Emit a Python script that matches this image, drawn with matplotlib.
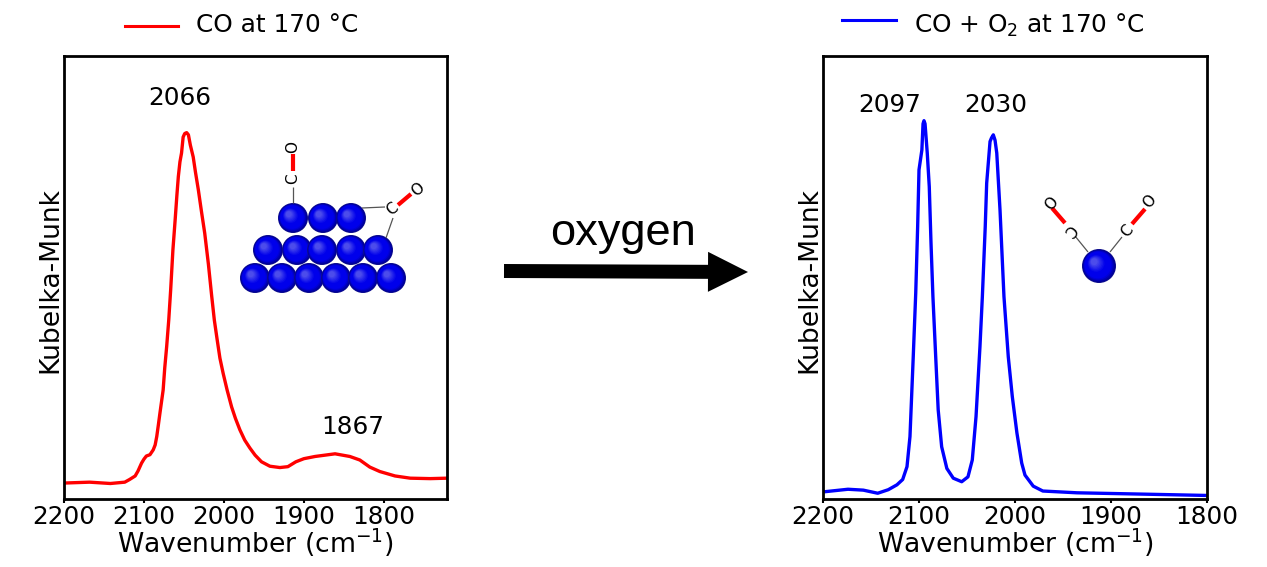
import numpy as np
import matplotlib
matplotlib.use('Agg')
import matplotlib.pyplot as plt
from matplotlib.patches import Circle

# CO at 170 C, left panel
wn_co = [2200, 2168, 2142, 2124, 2118, 2111, 2107.5, 2103, 2100, 2097, 2092.5, 2088.4, 2086, 2084, 2082, 2080,
         2076, 2074, 2071.6, 2069, 2066.6, 2063.8, 2061, 2058.8, 2057, 2055, 2053, 2051, 2049, 2046.6, 2044.4,
         2042, 2038.4, 2035.6, 2032, 2028, 2024, 2019.4, 2015.4, 2012, 2008.4, 2005, 2001, 1996, 1990.4, 1985.6,
         1980, 1974, 1967.5, 1961, 1953, 1942.5, 1930, 1920, 1910, 1900, 1886, 1861, 1842.5, 1830, 1817.5, 1805,
         1786, 1767, 1742, 1721]
km_co = [3.6, 3.8, 3.5, 3.8, 4.4, 5.2, 6.3, 8.1, 9.0, 9.7, 10.0, 11.1, 12.2, 14.1, 16.7, 19.4,
         24.6, 29.6, 34.4, 40.4, 47.2, 56.2, 63.0, 68.6, 72.8, 76.1, 78.1, 81.7, 82.5, 82.7, 82.2,
         79.9, 77.2, 73.8, 69.8, 64.8, 60.0, 53.0, 46.0, 40.4, 35.9, 31.8, 28.4, 24.6, 20.8, 18.2,
         15.6, 13.3, 11.5, 9.9, 8.4, 7.4, 7.1, 7.3, 8.4, 9.1, 9.6, 10.2, 9.6, 8.8, 7.2, 6.2,
         5.2, 4.7, 4.6, 4.7]

# CO + O2 at 170 C, right panel
wn_o2 = [2200, 2174, 2158, 2143, 2132, 2123, 2117, 2112.5, 2109.4, 2106, 2103.4, 2101.4, 2100, 2097, 2095.8,
         2094.8, 2093.7, 2091.4, 2089.3, 2087.5, 2085.5, 2082.6, 2080, 2076.4, 2071, 2064.3, 2055.5, 2049, 2044.5,
         2040.6, 2036.5, 2034, 2031, 2029.5, 2026, 2024.5, 2022.6, 2020.8, 2019, 2015.6, 2011.5, 2007, 2002.8,
         1998, 1993, 1989.6, 1981, 1971, 1935.4, 1866.7, 1800]
km_o2 = [1.6, 2.2, 2.0, 1.3, 2.1, 3.2, 4.4, 7.3, 14.1, 32.1, 46.5, 61.5, 74.3, 78.8, 84.7,
         85.4, 84.7, 78.1, 70.5, 57.8, 45.7, 32.1, 20.1, 11.8, 6.9, 4.7, 3.9, 5.0, 8.8,
         18.6, 34.4, 45.7, 61.5, 71.3, 80.7, 81.5, 82.2, 81.0, 78.1, 65.2, 45.7, 32.1, 23.1,
         14.9, 8.1, 5.4, 2.9, 1.8, 1.4, 1.1, 0.8]

ticks = [2200, 2100, 2000, 1900, 1800]
FS = 17.8
FS_LABEL = 19.2

plt.rcParams['font.family'] = 'DejaVu Sans'
fig = plt.figure(figsize=(12.67, 5.67), dpi=100)


def painel(box, wn, km, cor, xmax):
    ax = fig.add_axes([box[0] / 1267, 1 - box[3] / 567, (box[2] - box[0]) / 1267, (box[3] - box[1]) / 567])
    ax.plot(wn, km, color=cor, lw=2.4)
    ax.set_xlim(2200, xmax)
    ax.set_ylim(0, 100)
    ax.set_yticks([])
    ax.set_xticks(ticks)
    ax.tick_params(axis='x', labelsize=FS, length=3, width=1.5, pad=1)
    ax.set_xlabel('Wavenumber (cm$^{-1}$)', fontsize=FS_LABEL, labelpad=-1.5)
    ax.set_ylabel('Kubelka-Munk', fontsize=FS_LABEL, labelpad=0.5, y=0.495)
    for s in ax.spines.values():
        s.set_linewidth(2.0)
    return ax


ax1 = painel((64, 56, 447, 499), wn_co, km_co, '#ff0000', 1721)
ax2 = painel((823, 56, 1207, 499), wn_o2, km_o2, '#0000ff', 1800)

# overlay em pixels para legenda, seta e moleculas
ov = fig.add_axes([0, 0, 1, 1], facecolor='none')
ov.set_xlim(0, 1267)
ov.set_ylim(567, 0)
ov.axis('off')

ov.plot([125, 178], [26, 26], color='#ff0000', lw=2.2)
ov.text(196, 25, 'CO at 170 °C', fontsize=FS, va='center')
ov.plot([842, 896], [20, 20], color='#0000ff', lw=2.2)
ov.text(914, 25, 'CO + O$_2$ at 170 °C', fontsize=FS, va='center')

for x, y, s in [(180, 98, '2066'), (353, 427, '1867'), (890, 105, '2097'), (996, 105, '2030')]:
    ov.text(x, y, s, fontsize=FS, ha='center', va='center')

ov.text(623, 233, 'oxygen', fontsize=32.6, family='Liberation Sans', ha='center', va='center')
ov.arrow(504, 271, 244, 1, width=14, head_width=40, head_length=40, length_includes_head=True,
         color='black', lw=0)


def esfera(x, y, r):
    # camadas concentricas imitando o sombreado da esfera
    ov.add_patch(Circle((x, y), r, color='#14148c', lw=0))
    for f in np.linspace(0.96, 0.2, 14):
        t = (0.96 - f) / 0.76
        luz = 0.3 * max(0, t - 0.55) / 0.45
        c = (luz, luz, min(0.92, 0.6 + t * 1.6))
        ov.add_patch(Circle((x - 0.28 * r * t, y - 0.25 * r * t), r * f, color=c, lw=0))


def liga(x0, y0, x1, y1, cor='#555555', lw=0.9):
    ov.plot([x0, x1], [y0, y1], color=cor, lw=lw, solid_capstyle='butt')


def atomo(x, y, s, ang):
    ov.text(x, y, s, fontsize=11, rotation=ang, ha='center', va='center', rotation_mode='anchor')


# particula
for x in [293, 323, 351]:
    esfera(x, 218, 15)
for x in [268, 297, 322, 351, 378]:
    esfera(x, 250, 15)
for x in [255, 282, 309, 336, 363, 391]:
    esfera(x, 278, 15)
liga(293, 187, 293, 203)
liga(293, 154, 293, 171, '#ff0000', 3)
atomo(293, 179, 'C', 90)
atomo(293, 147, 'O', 90)
liga(362, 208, 385, 207)
liga(393, 218, 386, 238)
liga(398, 205, 411, 194, '#ff0000', 3)
atomo(392, 209, 'C', 40)
atomo(418, 190, 'O', 40)

# atomo isolado
esfera(1099, 266, 17)
liga(1088, 252, 1075, 236)
liga(1110, 252, 1122, 237)
liga(1052, 208, 1065, 223, '#ff0000', 3)
liga(1132, 224, 1145, 209, '#ff0000', 3)
atomo(1069, 230, 'C', -130)
atomo(1127, 231, 'C', 50)
atomo(1048, 200, 'O', -130)
atomo(1150, 202, 'O', 50)

fig.savefig('out.png', dpi=100)
